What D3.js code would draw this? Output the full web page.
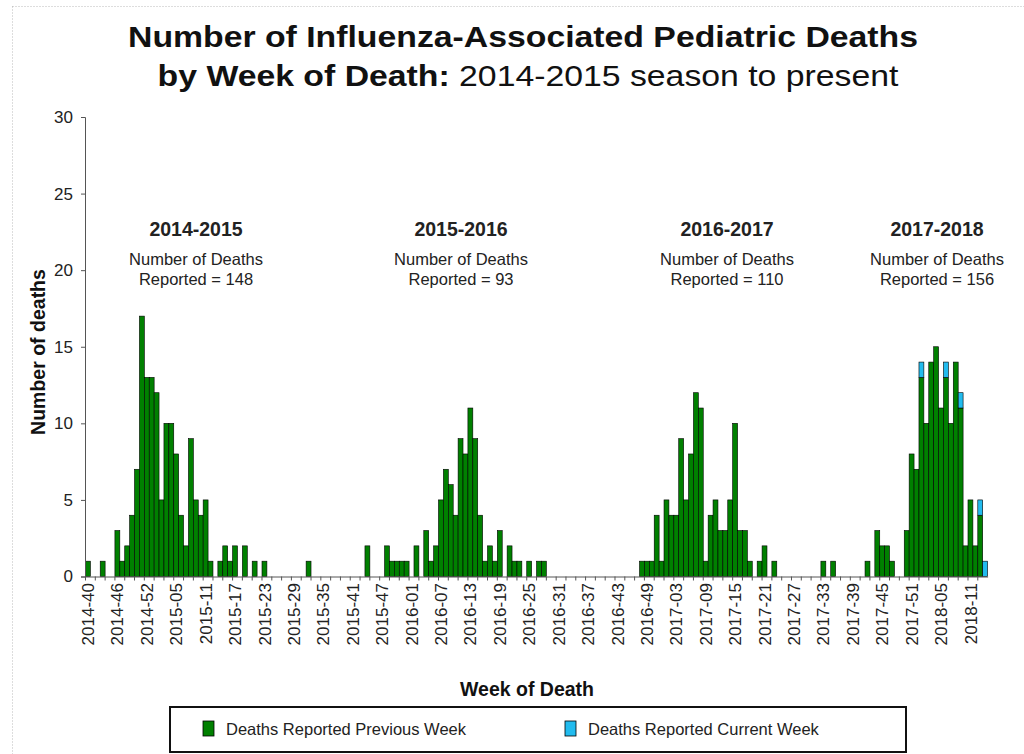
<!DOCTYPE html>
<html>
<head>
<meta charset="utf-8">
<script src="https://cdn.jsdelivr.net/npm/d3@7"></script>
<style>
  body { margin: 0; background: #fff; }
  svg { display: block; font-family: "Liberation Sans", Arial, sans-serif; }
</style>
</head>
<body>
<svg id="chart" width="1024" height="754"></svg>
<script>
'use strict';

// MMWR weeks shown on the axis: [year, first week, last week]
var weekSpans = [[2014, 40, 53], [2015, 1, 52], [2016, 1, 52], [2017, 1, 52], [2018, 1, 14]];

// labels shown every 6 weeks
var tickLabels = ['2014-40', '2014-46', '2014-52', '2015-05', '2015-11', '2015-17', '2015-23',
  '2015-29', '2015-35', '2015-41', '2015-47', '2016-01', '2016-07', '2016-13', '2016-19',
  '2016-25', '2016-31', '2016-37', '2016-43', '2016-49', '2017-03', '2017-09', '2017-15',
  '2017-21', '2017-27', '2017-33', '2017-39', '2017-45', '2017-51', '2018-05', '2018-11'];

// deaths reported previous week (one value per week, 2014-40 .. 2018-14)
var prevWeek = [
  1, 0, 0, 1, 0, 0, 3, 1, 2, 4, 7, 17, 13, 13,                                   // 2014-40..53
  12, 5, 10, 10, 8, 4, 2, 9, 5, 4, 5, 1, 0, 1, 2, 1, 2, 0, 2, 0, 1, 0, 1, 0, 0, 0,  // 2015-01..26
  0, 0, 0, 0, 0, 1, 0, 0, 0, 0, 0, 0, 0, 0, 0, 0, 0, 2, 0, 0, 0, 2, 1, 1, 1, 1,     // 2015-27..52
  0, 2, 0, 3, 1, 2, 5, 7, 6, 4, 9, 8, 11, 9, 4, 1, 2, 1, 3, 0, 2, 1, 1, 0, 1, 0,    // 2016-01..26
  1, 1, 0, 0, 0, 0, 0, 0, 0, 0, 0, 0, 0, 0, 0, 0, 0, 0, 0, 0, 0, 1, 1, 1, 4, 1,     // 2016-27..52
  5, 4, 4, 9, 5, 8, 12, 11, 1, 4, 5, 3, 3, 5, 10, 3, 3, 1, 0, 1, 2, 0, 1, 0, 0, 0,  // 2017-01..26
  0, 0, 0, 0, 0, 0, 1, 0, 1, 0, 0, 0, 0, 0, 0, 1, 0, 3, 2, 2, 1, 0, 0, 3, 8, 7,     // 2017-27..52
  13, 10, 14, 15, 11, 13, 10, 14, 11, 2, 5, 2, 4, 0                               // 2018-01..14
];

// deaths reported current week
var currWeek = [
  0, 0, 0, 0, 0, 0, 0, 0, 0, 0, 0, 0, 0, 0,                                       // 2014-40..53
  0, 0, 0, 0, 0, 0, 0, 0, 0, 0, 0, 0, 0, 0, 0, 0, 0, 0, 0, 0, 0, 0, 0, 0, 0, 0,   // 2015-01..26
  0, 0, 0, 0, 0, 0, 0, 0, 0, 0, 0, 0, 0, 0, 0, 0, 0, 0, 0, 0, 0, 0, 0, 0, 0, 0,   // 2015-27..52
  0, 0, 0, 0, 0, 0, 0, 0, 0, 0, 0, 0, 0, 0, 0, 0, 0, 0, 0, 0, 0, 0, 0, 0, 0, 0,   // 2016-01..26
  0, 0, 0, 0, 0, 0, 0, 0, 0, 0, 0, 0, 0, 0, 0, 0, 0, 0, 0, 0, 0, 0, 0, 0, 0, 0,   // 2016-27..52
  0, 0, 0, 0, 0, 0, 0, 0, 0, 0, 0, 0, 0, 0, 0, 0, 0, 0, 0, 0, 0, 0, 0, 0, 0, 0,   // 2017-01..26
  0, 0, 0, 0, 0, 0, 0, 0, 0, 0, 0, 0, 0, 0, 0, 0, 0, 0, 0, 0, 0, 0, 0, 0, 0, 0,   // 2017-27..52
  1, 0, 0, 0, 0, 1, 0, 0, 1, 0, 0, 0, 1, 1                                        // 2018-01..14
];

var seasons = ['2014-2015', '2015-2016', '2016-2017', '2017-2018'];
var seasonTotals = [148, 93, 110, 156];
var yTicks = [0, 5, 10, 15, 20, 25, 30];

var green = '#008000';
var cyan = '#22bbee';

// week keys
var weeks = [];
weekSpans.forEach(function(s) {
  for (var w = s[1]; w <= s[2]; w++) {
    weeks.push(s[0] + '-' + (w < 10 ? '0' + w : w));
  }
});

var rows = weeks.map(function(w, i) {
  return { week: w, prev: prevWeek[i] || 0, curr: currWeek[i] || 0 };
});

var svg = d3.select('#chart');

// dotted frame
svg.append('rect')
  .attr('x', 12.5).attr('y', 6.5)
  .attr('width', 1040).attr('height', 780)
  .attr('fill', 'none')
  .attr('stroke', '#bbb')
  .attr('stroke-dasharray', '1,2');

// scales
var x = d3.scaleBand().domain(weeks).range([85.5, 987.6]).padding(0);
var y = d3.scaleLinear().domain([0, 30]).range([576.5, 117]);

// stacked bars
var stack = d3.stack().keys(['prev', 'curr'])(rows);
var colors = { prev: green, curr: cyan };

svg.append('g')
  .selectAll('g')
  .data(stack)
  .enter()
  .append('g')
  .attr('fill', function(d) { return colors[d.key]; })
  .selectAll('rect')
  .data(function(d) { return d.filter(function(p) { return p[1] > p[0]; }); })
  .enter()
  .append('rect')
  .attr('x', function(d) { return x(d.data.week); })
  .attr('y', function(d) { return y(d[1]); })
  .attr('width', x.bandwidth())
  .attr('height', function(d) { return y(d[0]) - y(d[1]); })
  .attr('stroke', '#000')
  .attr('stroke-width', 0.6);

// y axis
var yAxis = svg.append('g')
  .attr('transform', 'translate(85,0)')
  .call(d3.axisLeft(y).tickValues(yTicks).tickSize(4).tickPadding(8));
yAxis.select('.domain').attr('stroke', '#555');
yAxis.selectAll('.tick line').attr('stroke', '#555');
yAxis.selectAll('text')
  .attr('font-size', 17)
  .attr('font-family', '"Liberation Sans", Arial, sans-serif')
  .attr('fill', '#222');

// x axis
var xAxis = svg.append('g')
  .attr('transform', 'translate(0,576.5)')
  .call(d3.axisBottom(x).tickValues(tickLabels).tickSize(0).tickSizeOuter(0));
xAxis.select('.domain').attr('stroke', '#555');
xAxis.selectAll('text')
  .attr('transform', 'rotate(-90)')
  .attr('x', -6.5)
  .attr('y', 0)
  .attr('dy', '0.36em')
  .style('text-anchor', 'end')
  .attr('font-size', 17)
  .attr('font-family', '"Liberation Sans", Arial, sans-serif')
  .attr('fill', '#222');

// minor ticks every two weeks on the category edges
svg.append('g')
  .selectAll('line')
  .data(weeks.filter(function(w, i) { return i % 2 === 0; }))
  .enter()
  .append('line')
  .attr('x1', function(d) { return x(d); })
  .attr('x2', function(d) { return x(d); })
  .attr('y1', 576.5)
  .attr('y2', 580.5)
  .attr('stroke', '#555');

// title
svg.append('text')
  .attr('transform', 'translate(523,47) scale(1.165,1)')
  .attr('text-anchor', 'middle')
  .attr('font-size', 29)
  .attr('font-weight', 'bold')
  .attr('fill', '#111')
  .text('Number of Influenza-Associated Pediatric Deaths');

var t2 = svg.append('text')
  .attr('transform', 'translate(528,86) scale(1.165,1)')
  .attr('text-anchor', 'middle')
  .attr('font-size', 29)
  .attr('fill', '#111');
t2.append('tspan').attr('font-weight', 'bold').text('by Week of Death:');
t2.append('tspan').text(' 2014-2015 season to present');

// season annotations
var labelX = [196, 461, 727, 937];
seasons.forEach(function(s, i) {
  var g = svg.append('g')
    .attr('transform', 'translate(' + labelX[i] + ',0)')
    .attr('text-anchor', 'middle')
    .attr('fill', '#222');
  g.append('text')
    .attr('y', 236)
    .attr('font-size', 19.5)
    .attr('font-weight', 'bold')
    .text(s);
  g.append('text')
    .attr('y', 265)
    .attr('font-size', 16.5)
    .text('Number of Deaths');
  g.append('text')
    .attr('y', 285)
    .attr('font-size', 16.5)
    .text('Reported = ' + seasonTotals[i]);
});

// axis titles
svg.append('text')
  .attr('transform', 'translate(45,352) rotate(-90)')
  .attr('text-anchor', 'middle')
  .attr('font-size', 19.5)
  .attr('font-weight', 'bold')
  .attr('fill', '#111')
  .text('Number of deaths');

svg.append('text')
  .attr('x', 527)
  .attr('y', 696)
  .attr('text-anchor', 'middle')
  .attr('font-size', 19.5)
  .attr('font-weight', 'bold')
  .attr('fill', '#111')
  .text('Week of Death');

// legend
var legend = svg.append('g');
legend.append('rect')
  .attr('x', 170).attr('y', 707)
  .attr('width', 736).attr('height', 45)
  .attr('fill', '#fff')
  .attr('stroke', '#111')
  .attr('stroke-width', 2);

var legendItems = [
  { label: 'Deaths Reported Previous Week', color: green, x: 203 },
  { label: 'Deaths Reported Current Week', color: cyan, x: 565 }
];
legendItems.forEach(function(d) {
  legend.append('rect')
    .attr('x', d.x).attr('y', 721)
    .attr('width', 11).attr('height', 15)
    .attr('fill', d.color)
    .attr('stroke', '#000')
    .attr('stroke-width', 0.8);
  legend.append('text')
    .attr('x', d.x + 23)
    .attr('y', 735)
    .attr('font-size', 16.5)
    .attr('fill', '#222')
    .text(d.label);
});
</script>
</body>
</html>
